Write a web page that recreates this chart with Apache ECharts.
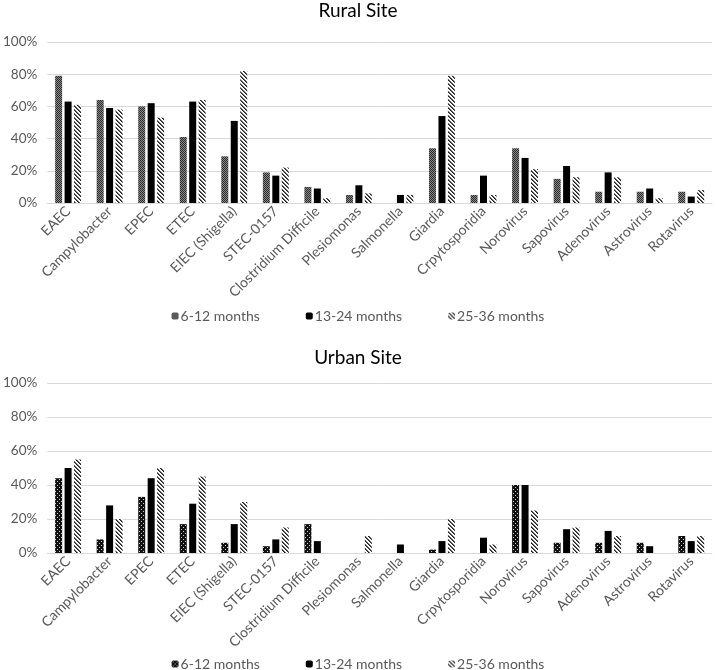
<!DOCTYPE html>
<html>
<head>
<meta charset="utf-8">
<script src="https://cdn.jsdelivr.net/npm/echarts@6/dist/echarts.min.js"></script>
<style>html,body{margin:0;padding:0;background:#fff}#c{width:716px;height:670px}</style>
</head>
<body>
<div id="c"></div>
<script>
const categories = ['EAEC','Campylobacter','EPEC','ETEC','EIEC (Shigella)','STEC-0157','Clostridium Difficile','Plesiomonas','Salmonella','Giardia','Crpytosporidia','Norovirus','Sapovirus','Adenovirus','Astrovirus','Rotavirus'];
const seriesNames = ['6-12 months','13-24 months','25-36 months'];
const yTicks = [0,20,40,60,80,100];

const rural612  = [79,64,60,41,29,19,10,5,0,34,5,34,15,7,7,7];
const rural1324 = [63,59,62,63,51,17,9,11,5,54,17,28,23,19,9,4];
const rural2536 = [61,58,53,64,82,22,3,6,5,79,5,21,16,16,3,8];

const urban612  = [44,8,33,17,6,4,17,0,0,2,0,40,6,6,6,10];
const urban1324 = [50,28,44,29,17,8,7,0,5,7,9,40,14,13,4,7];
const urban2536 = [55,20,50,45,30,15,0,10,0,20,5,25,15,10,0,10];

function makePattern(size, fn) {
  const cv = document.createElement('canvas');
  cv.width = size; cv.height = size;
  const ctx = cv.getContext('2d');
  for (let y = 0; y < size; y++) for (let x = 0; x < size; x++) {
    ctx.fillStyle = fn(x, y);
    ctx.fillRect(x, y, 1, 1);
  }
  return {image: cv, repeat: 'repeat'};
}
const checkRural = makePattern(2, (x, y) => ((x + y) % 2 === 0) ? '#2a2a2a' : '#8a8a8a');
const dotsUrban = makePattern(4, (x, y) => (x % 4 === 1 && y % 4 === 1) || (x % 4 === 3 && y % 4 === 3) ? '#d0d0d0' : '#111');
const stripes = makePattern(4, (x, y) => { const d = ((x - y) % 4 + 4) % 4; return d === 0 ? '#222' : (d === 1 ? '#666' : '#fff'); });
const solid = '#000';

const font = 'Lato';
const labelColor = '#595959';

function xAxis(gi) {
  return {
    type: 'category', gridIndex: gi, data: categories,
    axisLine: {show: true, lineStyle: {color: '#d9d9d9'}},
    axisTick: {show: false},
    axisLabel: {rotate: 45, interval: 0, color: labelColor, fontFamily: font, fontSize: 14, margin: 6}
  };
}
function yAxis(gi) {
  return {
    type: 'value', gridIndex: gi, min: yTicks[0], max: yTicks[yTicks.length - 1], interval: yTicks[1] - yTicks[0],
    axisLine: {show: false}, axisTick: {show: false},
    splitLine: {lineStyle: {color: '#d9d9d9', width: 1}},
    axisLabel: {formatter: '{value}%', color: labelColor, fontFamily: font, fontSize: 13.5, margin: 10}
  };
}
function bar(name, gi, data, color) {
  return {
    name: name, type: 'bar', xAxisIndex: gi, yAxisIndex: gi, data: data,
    barWidth: 7, barGap: '35%',
    itemStyle: {color: color},
    emphasis: {disabled: true}
  };
}
function legend(names, top) {
  return {data: names, top: top, left: 'center', itemWidth: 7, itemHeight: 7, itemGap: 46,
    formatter: n => n.trim(),
    textStyle: {color: labelColor, fontFamily: font, fontSize: 14, padding: [0, 0, 0, -3]}};
}

const urbanNames = seriesNames.map(n => n + ' ');

const option = {
  animation: false,
  backgroundColor: '#fff',
  title: [
    {text: 'Rural Site', left: 'center', top: 1, padding: 0, textStyle: {fontFamily: font, fontSize: 19, fontWeight: 'normal', color: '#000'}},
    {text: 'Urban Site', left: 'center', top: 348, padding: 0, textStyle: {fontFamily: font, fontSize: 19, fontWeight: 'normal', color: '#000'}}
  ],
  grid: [
    {left: 44, right: 4, top: 42, height: 161},
    {left: 44, right: 4, top: 383, height: 170}
  ],
  legend: [legend(seriesNames, 304), legend(urbanNames, 652)],
  xAxis: [xAxis(0), xAxis(1)],
  yAxis: [yAxis(0), yAxis(1)],
  series: [
    bar(seriesNames[0], 0, rural612, checkRural),
    bar(seriesNames[1], 0, rural1324, solid),
    bar(seriesNames[2], 0, rural2536, stripes),
    bar(urbanNames[0], 1, urban612, dotsUrban),
    bar(urbanNames[1], 1, urban1324, solid),
    bar(urbanNames[2], 1, urban2536, stripes)
  ]
};
echarts.init(document.getElementById('c'), null, {renderer: 'canvas'}).setOption(option);
</script>
</body>
</html>
